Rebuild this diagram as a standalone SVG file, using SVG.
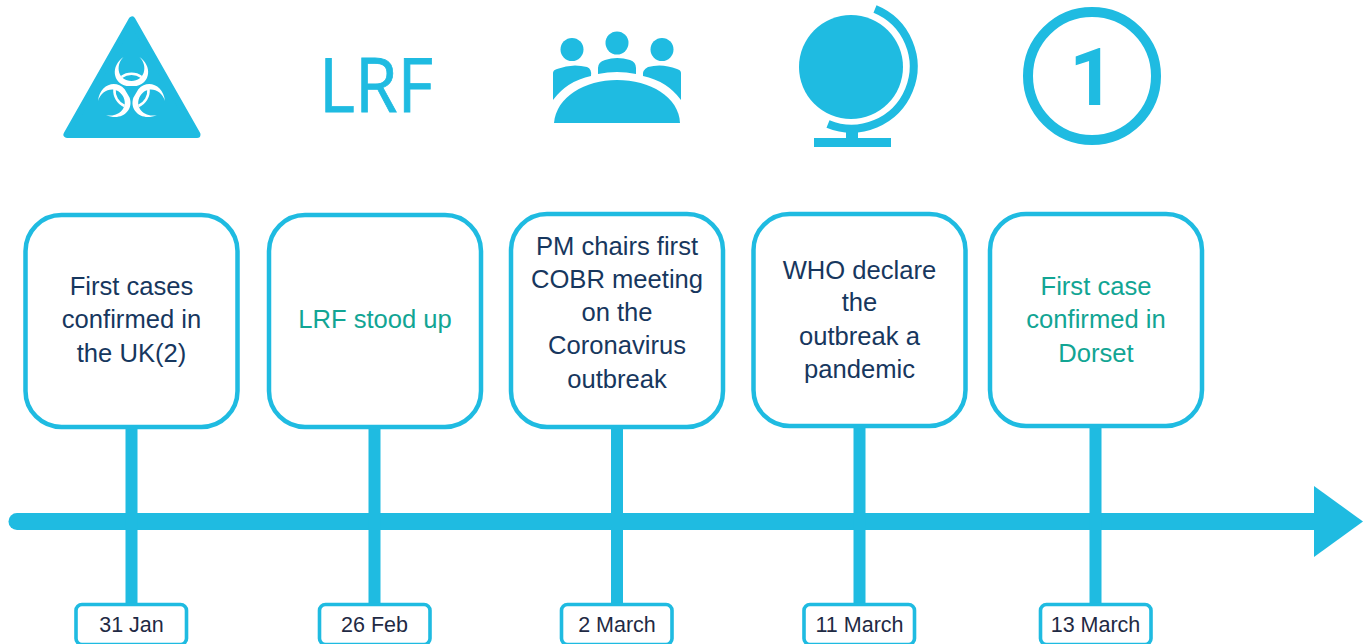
<svg xmlns="http://www.w3.org/2000/svg" width="1363" height="644" viewBox="0 0 1363 644">
<style>
.b{fill:#fff;stroke:#1fbbe1;stroke-width:4.5}
.d{fill:#fff;stroke:#1fbbe1;stroke-width:3.600}
.t{font-family:"Liberation Sans",Arial,sans-serif;font-size:25.600px;text-anchor:middle;fill:#17375e}
.g{fill:#12a594}
.s{font-family:"Liberation Sans",Arial,sans-serif;font-size:21.500px;text-anchor:middle;fill:#1f2a44}
.i{fill:#1fbbe1}
.c{stroke:#1fbbe1;fill:none}
</style>
<defs>
<path id="horn" fill="#fff" d="M-8-34C-21-25-19-8-5-5L5-5C19-8 21-25 8-34C17-25 13-10 0-10C-13-10-17-25-8-34Z"/>
</defs>
<rect width="1363" height="644" fill="#fff"/>
<g id="connectors">
<path class="c" stroke-width="17" stroke-linecap="round" d="M17 521.500H1316"/>
<polygon class="i" points="1314,486 1363,521.500 1314,557"/>
<path class="c" stroke-width="12" d="M131.500 425V606M374.500 425V606M617 425V606M859.500 425V606M1095.500 425V606"/>
</g>
<g id="icon-biohazard">
<polygon class="i" points="132,20 67,134.500 197,134.500" stroke="#1fbbe1" stroke-width="7" stroke-linejoin="round"/>
<g transform="translate(131.500 91)">
<use href="#horn"/>
<use href="#horn" transform="rotate(120)"/>
<use href="#horn" transform="rotate(240)"/>
<g fill="none" stroke="#fff" stroke-width="2.500">
<path d="M-10-14A17 17 0 0 1 10-14"/>
<path d="M17-2A17 17 0 0 1 7 15"/>
<path d="M-17-2A17 17 0 0 0-7 15"/>
</g>
</g>
</g>
<g id="icon-lrf"><text x="319" y="112" font-family="'Open Sans','Noto Sans',sans-serif" font-size="75" textLength="114" lengthAdjust="spacingAndGlyphs" fill="#1fbbe1" stroke="#1fbbe1" stroke-width="0.800">LRF</text></g>
<g id="icon-meeting" class="i">
<circle cx="572" cy="49.500" r="11.500"/><circle cx="617" cy="43" r="11.500"/><circle cx="662" cy="49.500" r="11.500"/>
<path d="M553 100V73Q553 70 557 69Q572 63 587 67Q592 69 591 76Q567 81 553 100Z"/>
<path d="M598 74V68Q598 62 605 60Q617 56 630 60Q636 62 636 68V74Q617 70 598 74Z"/>
<path d="M643 76Q642 70 648 67Q662 63 677 69Q681 70 681 73V100Q667 81 643 76Z"/>
<path d="M554 123C556 97 585 80 617 80C650 80 679 97 680 123Z"/>
</g>
<g id="icon-globe">
<circle class="i" cx="851" cy="67" r="52"/>
<path class="c" stroke-width="8" d="M875 9A61 61 0 1 1 828 124"/>
<path class="i" d="M846 128H858V138H891V147H814V138H846Z"/>
</g>
<g id="icon-one">
<circle cx="1092" cy="76" r="64" fill="none" stroke="#1fbbe1" stroke-width="10"/>
<text x="1092" y="105" font-family="Roboto,'Liberation Sans',sans-serif" font-size="79" font-weight="bold" text-anchor="middle" fill="#1fbbe1">1</text>
</g>
<g id="node-1"><rect class="b" x="25.500" y="215" width="212" height="212" rx="36"/>
<text class="t"><tspan x="131.500" y="295">First cases</tspan><tspan x="131.500" y="328">confirmed in</tspan><tspan x="131.500" y="362">the UK(2)</tspan></text></g>
<g id="node-2"><rect class="b" x="269" y="215" width="212" height="212" rx="36"/>
<text class="t g" x="375" y="328">LRF stood up</text></g>
<g id="node-3"><rect class="b" x="511" y="214" width="212" height="213" rx="36"/>
<text class="t"><tspan x="617" y="255">PM chairs first</tspan><tspan x="617" y="288">COBR meeting</tspan><tspan x="617" y="321">on the</tspan><tspan x="617" y="354">Coronavirus</tspan><tspan x="617" y="388">outbreak</tspan></text></g>
<g id="node-4"><rect class="b" x="753.500" y="214" width="212" height="212" rx="36"/>
<text class="t"><tspan x="859.500" y="279">WHO declare</tspan><tspan x="859.500" y="311">the</tspan><tspan x="859.500" y="345">outbreak a</tspan><tspan x="859.500" y="378">pandemic</tspan></text></g>
<g id="node-5"><rect class="b" x="990" y="214" width="212" height="212" rx="36"/>
<text class="t g"><tspan x="1096" y="295">First case</tspan><tspan x="1096" y="328">confirmed in</tspan><tspan x="1096" y="362">Dorset</tspan></text></g>
<g id="date-1"><rect class="d" x="76" y="604.500" width="110.500" height="40" rx="6"/><text class="s" x="131.500" y="632">31 Jan</text></g>
<g id="date-2"><rect class="d" x="319.500" y="604.500" width="110.500" height="40" rx="6"/><text class="s" x="374.500" y="632">26 Feb</text></g>
<g id="date-3"><rect class="d" x="561.500" y="604.500" width="110.500" height="40" rx="6"/><text class="s" x="617" y="632">2 March</text></g>
<g id="date-4"><rect class="d" x="804" y="604.500" width="110.500" height="40" rx="6"/><text class="s" x="859.500" y="632">11 March</text></g>
<g id="date-5"><rect class="d" x="1040.500" y="604.500" width="110.500" height="40" rx="6"/><text class="s" x="1095.500" y="632">13 March</text></g>
</svg>
